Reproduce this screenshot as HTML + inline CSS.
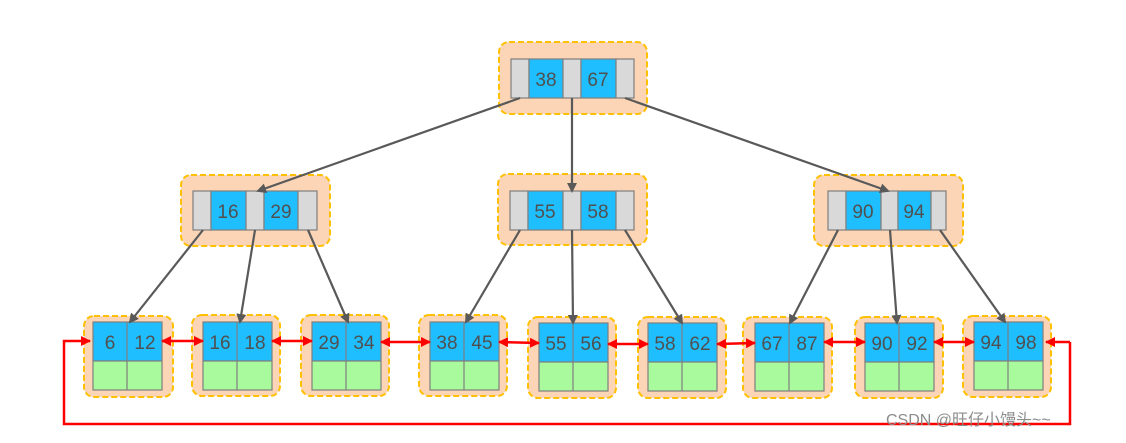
<!DOCTYPE html>
<html><head><meta charset="utf-8"><style>
body{margin:0;background:#fff;width:1126px;height:438px;overflow:hidden}
svg text{font-family:"Liberation Sans","DejaVu Sans",sans-serif}
</style></head><body>
<svg width="1126" height="438" xmlns="http://www.w3.org/2000/svg">
<defs>
<marker id="ga" markerWidth="10" markerHeight="10" refX="8" refY="5" orient="auto" markerUnits="userSpaceOnUse"><path d="M0,0 L10,5 L0,10 z" fill="#595959"/></marker>
<marker id="ra" markerWidth="10" markerHeight="10" refX="9" refY="5" orient="auto-start-reverse" markerUnits="userSpaceOnUse"><path d="M0,0 L10,5 L0,10 z" fill="#f00"/></marker>
</defs>
<g stroke="#ffc000" stroke-width="2" stroke-dasharray="6,3" fill="#fbd5b5">
<rect x="499" y="42" width="148" height="72" rx="10"/>
<rect x="181" y="175" width="149" height="71" rx="10"/>
<rect x="498" y="174" width="149" height="71" rx="10"/>
<rect x="814" y="175" width="149" height="71" rx="10"/>
<rect x="84" y="316" width="89" height="81" rx="10"/>
<rect x="192" y="315" width="88" height="81" rx="10"/>
<rect x="301" y="315" width="88" height="81" rx="10"/>
<rect x="419" y="315" width="88" height="81" rx="10"/>
<rect x="528" y="317" width="88" height="81" rx="10"/>
<rect x="638" y="317" width="88" height="81" rx="10"/>
<rect x="743" y="317" width="89" height="81" rx="10"/>
<rect x="855" y="317" width="88" height="81" rx="10"/>
<rect x="963" y="316" width="88" height="81" rx="10"/>
</g>
<g stroke="#7f7f7f" stroke-width="1.2">
<rect x="511" y="59" width="18" height="39" fill="#d9d9d9"/><rect x="529" y="59" width="34" height="39" fill="#1ebeff"/><rect x="563" y="59" width="18" height="39" fill="#d9d9d9"/><rect x="581" y="59" width="35" height="39" fill="#1ebeff"/><rect x="616" y="59" width="18" height="39" fill="#d9d9d9"/>
<rect x="193" y="191" width="18" height="39" fill="#d9d9d9"/><rect x="211" y="191" width="35" height="39" fill="#1ebeff"/><rect x="246" y="191" width="18" height="39" fill="#d9d9d9"/><rect x="264" y="191" width="34" height="39" fill="#1ebeff"/><rect x="298" y="191" width="19" height="39" fill="#d9d9d9"/>
<rect x="510" y="191" width="18" height="39" fill="#d9d9d9"/><rect x="528" y="191" width="35" height="39" fill="#1ebeff"/><rect x="563" y="191" width="18" height="39" fill="#d9d9d9"/><rect x="581" y="191" width="35" height="39" fill="#1ebeff"/><rect x="616" y="191" width="18" height="39" fill="#d9d9d9"/>
<rect x="828" y="191" width="18" height="39" fill="#d9d9d9"/><rect x="846" y="191" width="35" height="39" fill="#1ebeff"/><rect x="881" y="191" width="17" height="39" fill="#d9d9d9"/><rect x="898" y="191" width="33" height="39" fill="#1ebeff"/><rect x="931" y="191" width="15" height="39" fill="#d9d9d9"/>
</g>
<g font-size="19" fill="#505050" text-anchor="middle">
<text x="546" y="86">38</text><text x="598" y="86">67</text>
<text x="228" y="218">16</text><text x="281" y="218">29</text>
<text x="545" y="218">55</text><text x="598" y="218">58</text>
<text x="863" y="218">90</text><text x="914" y="218">94</text>
</g>
<g stroke="#7f7f7f" stroke-width="1.2">
<g transform="translate(93,322)"><rect width="69" height="39" fill="#1ebeff"/><rect y="39" width="69" height="29" fill="#a9f99d"/><line x1="34" y1="0" x2="34" y2="68"/></g>
<g transform="translate(203,322)"><rect width="69" height="39" fill="#1ebeff"/><rect y="39" width="69" height="29" fill="#a9f99d"/><line x1="34" y1="0" x2="34" y2="68"/></g>
<g transform="translate(312,322)"><rect width="69" height="39" fill="#1ebeff"/><rect y="39" width="69" height="29" fill="#a9f99d"/><line x1="34" y1="0" x2="34" y2="68"/></g>
<g transform="translate(430,322)"><rect width="69" height="39" fill="#1ebeff"/><rect y="39" width="69" height="29" fill="#a9f99d"/><line x1="34" y1="0" x2="34" y2="68"/></g>
<g transform="translate(539,323)"><rect width="69" height="39" fill="#1ebeff"/><rect y="39" width="69" height="29" fill="#a9f99d"/><line x1="34" y1="0" x2="34" y2="68"/></g>
<g transform="translate(648,323)"><rect width="69" height="39" fill="#1ebeff"/><rect y="39" width="69" height="29" fill="#a9f99d"/><line x1="34" y1="0" x2="34" y2="68"/></g>
<g transform="translate(755,323)"><rect width="69" height="39" fill="#1ebeff"/><rect y="39" width="69" height="29" fill="#a9f99d"/><line x1="34" y1="0" x2="34" y2="68"/></g>
<g transform="translate(865,323)"><rect width="69" height="39" fill="#1ebeff"/><rect y="39" width="69" height="29" fill="#a9f99d"/><line x1="34" y1="0" x2="34" y2="68"/></g>
<g transform="translate(974,322)"><rect width="69" height="39" fill="#1ebeff"/><rect y="39" width="69" height="29" fill="#a9f99d"/><line x1="34" y1="0" x2="34" y2="68"/></g>
</g>
<g font-size="19" fill="#505050" text-anchor="middle">
<text x="110" y="349">6</text><text x="145" y="349">12</text>
<text x="220" y="349">16</text><text x="255" y="349">18</text>
<text x="329" y="349">29</text><text x="364" y="349">34</text>
<text x="447" y="349">38</text><text x="482" y="349">45</text>
<text x="556" y="350">55</text><text x="591" y="350">56</text>
<text x="665" y="350">58</text><text x="700" y="350">62</text>
<text x="772" y="350">67</text><text x="807" y="350">87</text>
<text x="882" y="350">90</text><text x="917" y="350">92</text>
<text x="991" y="349">94</text><text x="1026" y="349">98</text>
</g>
<g stroke="#595959" stroke-width="2.2" marker-end="url(#ga)">
<line x1="520" y1="98" x2="258" y2="191"/><line x1="572" y1="98" x2="572" y2="191"/><line x1="625" y1="98" x2="888" y2="191"/>
<line x1="203" y1="230" x2="130" y2="322"/><line x1="255" y1="230" x2="240" y2="322"/><line x1="308" y1="230" x2="348" y2="322"/>
<line x1="520" y1="230" x2="466" y2="322"/><line x1="572" y1="230" x2="573" y2="323"/><line x1="625" y1="230" x2="682" y2="323"/>
<line x1="838" y1="230" x2="790" y2="323"/><line x1="890" y1="230" x2="897" y2="323"/><line x1="940" y1="230" x2="1005" y2="322"/>
</g>
<g stroke="#f00" stroke-width="2.5" fill="none" marker-start="url(#ra)" marker-end="url(#ra)">
<line x1="162" y1="341" x2="203" y2="341"/><line x1="272" y1="341" x2="312" y2="341"/><line x1="381" y1="342" x2="430" y2="342"/>
<line x1="499" y1="342" x2="539" y2="343"/><line x1="608" y1="344" x2="648" y2="344"/><line x1="717" y1="344" x2="755" y2="343"/>
<line x1="824" y1="342" x2="865" y2="342"/><line x1="934" y1="342" x2="974" y2="342"/>
</g>
<polyline points="1070,342 1070,424 64,424 64,341 90,341" stroke="#f00" stroke-width="2.5" fill="none" marker-end="url(#ra)"/>
<line x1="1070" y1="342" x2="1046" y2="342" stroke="#f00" stroke-width="2.5" marker-end="url(#ra)"/>
<text x="886" y="425" font-size="16" fill="#8c8c8c" style="font-family:'Liberation Sans','Noto Sans CJK SC',sans-serif">CSDN @旺仔小馒头~~</text>
</svg>
</body></html>
